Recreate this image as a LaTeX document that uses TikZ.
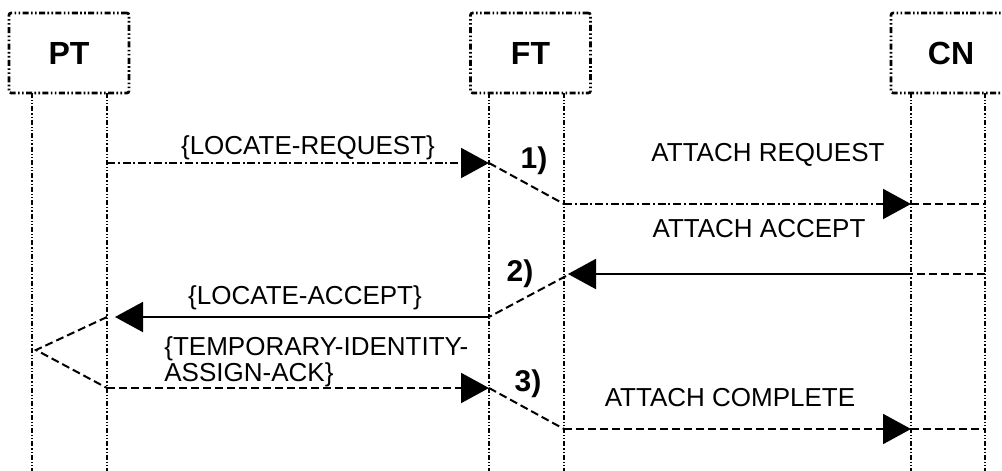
\documentclass[tikz,border=0pt]{standalone}
\usepackage{fontspec}
\setmainfont{Liberation Sans}
\usetikzlibrary{arrows.meta,calc}

\begin{document}
\begin{tikzpicture}[x=0.5pt,y=-0.5pt,
    entity/.style={draw,line width=1.3pt,rounded corners=1pt,
        dash pattern=on 3pt off 1.2pt on 0.8pt off 1.2pt on 0.8pt off 1.2pt,
        minimum width=60pt,minimum height=40pt,inner sep=0pt,
        font=\fontsize{16}{19}\selectfont\bfseries},
    life/.style={line width=0.9pt,dash pattern=on 2.5pt off 1pt on 0.6pt off 1pt on 0.6pt off 1pt},
    dashdot/.style={line width=1pt,dash pattern=on 4pt off 1.4pt on 1pt off 1.4pt},
    dashline/.style={line width=1pt,dash pattern=on 4pt off 2pt},
    solid line/.style={line width=1pt},
    arrowtip/.style={-{Triangle[length=14pt,width=15pt]}},
    msg/.style={inner sep=0pt,font=\fontsize{13}{13}\selectfont},
    step no/.style={inner sep=0pt,font=\fontsize{15}{18}\selectfont\bfseries}]

    \useasboundingbox (0,0) rectangle (1002,471);

    % entities
    \node[entity] (pt) at (69,53) {PT};
    \node[entity] (ft) at (530.5,53) {FT};
    \node[entity] (cn) at (951,53) {CN};

    % lifelines, two per entity
    \foreach \x in {32,107,489,564,911,985}
        \draw[life] (\x,93) -- (\x,471);

    % points on the lifelines
    \coordinate (p1) at (107,163);  \coordinate (f1) at (489,163);
    \coordinate (f2) at (564,204);  \coordinate (c2) at (911,204);
    \coordinate (c2r) at (985,204);
    \coordinate (c3r) at (985,274); \coordinate (c3) at (911,274);
    \coordinate (f3) at (568,274);  \coordinate (f3l) at (566,276);
    \coordinate (f4) at (489,317);  \coordinate (p4) at (115,317);
    \coordinate (p4r) at (107,317); \coordinate (pv) at (36,350);
    \coordinate (p5) at (107,388);  \coordinate (f5) at (489,388);
    \coordinate (f6) at (564,429);  \coordinate (c6) at (911,429);
    \coordinate (c6r) at (985,429);

    % 1) locate request, attach request
    \draw[dashdot,arrowtip] (p1) -- (f1);
    \draw[dashline] (f1) -- (f2);
    \draw[dashdot,arrowtip] (f2) -- (c2);
    \draw[dashline] (c2) -- (c2r);

    % 2) attach accept, locate accept
    \draw[dashline] (c3r) -- (c3);
    \draw[solid line,arrowtip] (c3) -- (f3);
    \draw[dashline] (f3l) -- (f4);
    \draw[solid line,arrowtip] (f4) -- (p4);

    % 3) identity assign ack, attach complete
    \draw[dashline] (p4r) -- (pv) -- (p5);
    \draw[dashline,arrowtip] (p5) -- (f5);
    \draw[dashline] (f5) -- (f6);
    \draw[dashline,arrowtip] (f6) -- (c6);
    \draw[dashline] (c6) -- (c6r);

    % labels
    \node[msg] (locreq) at (308,148) {\{LOCATE-REQUEST\}};
    \node[step no] (one) at (534,161) {1)};
    \node[msg] (attreq) at (768,155) {ATTACH REQUEST};
    \node[msg] (attacc) at (759,229) {ATTACH ACCEPT};
    \node[step no] (two) at (520,274) {2)};
    \node[msg] (locacc) at (305,298) {\{LOCATE-ACCEPT\}};
    \node[msg,anchor=west,align=left] (tmpid) at (164,362)
        {\{TEMPORARY-IDENTITY-\\ASSIGN-ACK\}};
    \node[step no] (three) at (528,384) {3)};
    \node[msg] (attcmp) at (730,398) {ATTACH COMPLETE};

\end{tikzpicture}
\end{document}
